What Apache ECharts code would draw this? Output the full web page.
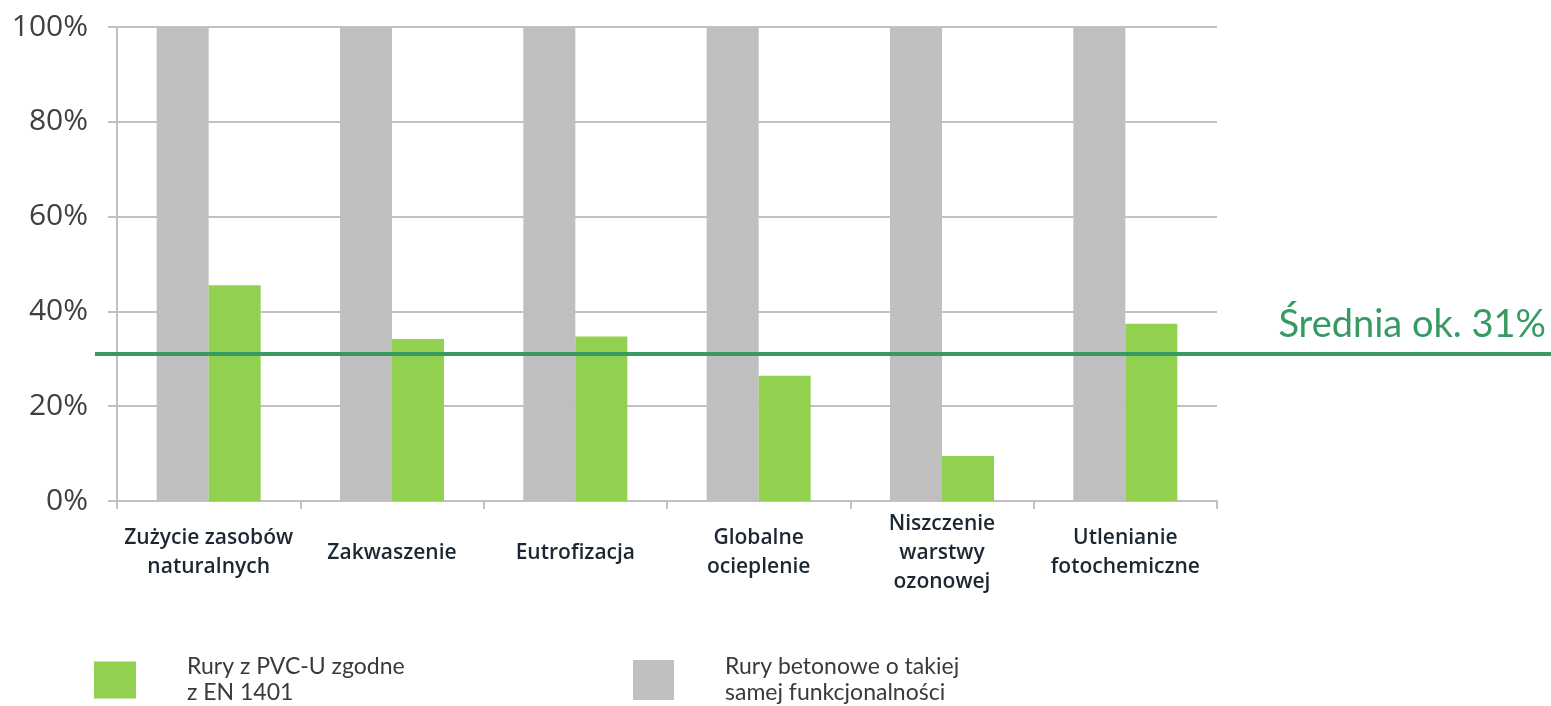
<!DOCTYPE html>
<html>
<head>
<meta charset="utf-8">
<script src="https://cdn.jsdelivr.net/npm/echarts@6/dist/echarts.min.js"></script>
<style>
  html, body { margin: 0; padding: 0; background: #ffffff; }
  #chart { width: 1551px; height: 706px; }
</style>
</head>
<body>
<div id="chart"></div>
<script>
// Impact categories (x axis)
const categories = [
  'Zużycie zasobów\nnaturalnych',
  'Zakwaszenie',
  'Eutrofizacja',
  'Globalne\nocieplenie',
  'Niszczenie\nwarstwy\nozonowej',
  'Utlenianie\nfotochemiczne'
];
// Concrete pipes are the 100% reference
const concreteValues = [100, 100, 100, 100, 100, 100];
// PVC-U pipes relative to concrete, in %
const pvcValues = [45.5, 34.2, 34.7, 26.4, 9.5, 37.4];
// Average impact of PVC-U pipes
const averageValue = 31;
const averageLabel = 'Średnia ok. 31%';
const yTicks = [0, 20, 40, 60, 80, 100];

const seriesNames = {
  pvc: 'Rury z PVC-U zgodne\nz EN 1401',
  concrete: 'Rury betonowe o takiej\nsamej funkcjonalności'
};

const GREEN = '#92d050';
const GREY = '#bfbfbf';
const LINE_GREEN = '#379a63';
const GRID_GREY = '#c0c0c0';

const chart = echarts.init(document.getElementById('chart'), null, { renderer: 'canvas' });

const legendText = {
  fontFamily: 'Lato, "Open Sans", sans-serif',
  fontSize: 23,
  color: '#3a3a3a',
  lineHeight: 26,
  padding: [0, 0, 0, 46]
};

chart.setOption({
  animation: false,
  backgroundColor: '#ffffff',
  grid: { left: 117, right: 334, top: 27, bottom: 205, containLabel: false },
  legend: [
    {
      data: [seriesNames.pvc],
      left: 89, top: 649,
      padding: 5,
      orient: 'horizontal',
      itemWidth: 42, itemHeight: 37,
      icon: 'rect',
      textStyle: legendText,
      selectedMode: false
    },
    {
      data: [seriesNames.concrete],
      left: 628, top: 649,
      padding: 5,
      orient: 'horizontal',
      itemWidth: 41, itemHeight: 40,
      icon: 'rect',
      textStyle: legendText,
      selectedMode: false
    }
  ],
  xAxis: {
    type: 'category',
    data: categories,
    axisLine: { show: true, lineStyle: { color: GRID_GREY, width: 2 } },
    axisTick: { show: true, length: 8, lineStyle: { color: GRID_GREY, width: 2 } },
    axisLabel: {
      interval: 0,
      margin: 52,
      verticalAlign: 'middle',
      fontFamily: '"Open Sans", Lato, sans-serif',
      fontWeight: 600,
      fontSize: 21,
      lineHeight: 29,
      color: '#1c2733'
    }
  },
  yAxis: {
    type: 'value',
    min: 0, max: 100, interval: 20,
    axisLine: { show: true, lineStyle: { color: GRID_GREY, width: 2 } },
    axisTick: { show: true, length: 9, lineStyle: { color: GRID_GREY, width: 2 } },
    splitLine: { show: true, lineStyle: { color: GRID_GREY, width: 2 } },
    axisLabel: {
      margin: 29,
      fontFamily: '"Open Sans", "Liberation Sans", sans-serif',
      fontSize: 30,
      color: '#404040',
      formatter: v => yTicks.includes(v) ? v + '%' : ''
    }
  },
  series: [
    {
      name: seriesNames.concrete,
      type: 'bar',
      data: concreteValues,
      barWidth: 52,
      barGap: '0%',
      itemStyle: { color: GREY }
    },
    {
      name: seriesNames.pvc,
      type: 'bar',
      data: pvcValues,
      barWidth: 52,
      barGap: '0%',
      itemStyle: { color: GREEN }
    }
  ]
});

// Average line runs across the full width, placed through the value axis
const avgY = chart.convertToPixel({ yAxisIndex: 0 }, averageValue);
const width = chart.getWidth();
chart.setOption({
  graphic: [
    {
      type: 'line',
      shape: { x1: 95, y1: avgY, x2: width, y2: avgY },
      style: { stroke: LINE_GREEN, lineWidth: 4 },
      z: 100
    },
    {
      type: 'text',
      x: width - 5,
      y: avgY - 10,
      style: {
        text: averageLabel,
        fill: LINE_GREEN,
        font: '38px Lato, "Open Sans", sans-serif',
        textAlign: 'right',
        textVerticalAlign: 'bottom'
      },
      z: 100
    }
  ]
});
</script>
</body>
</html>
